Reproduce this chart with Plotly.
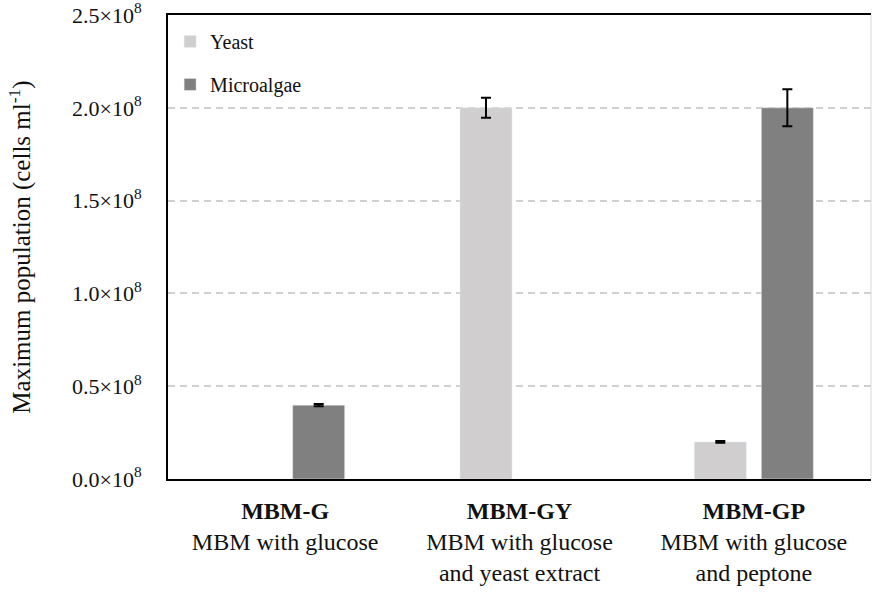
import plotly.graph_objects as go

categories = ["MBM-G", "MBM-GY", "MBM-GP"]
descriptions = ["MBM with glucose", "MBM with glucose<br>and yeast extract", "MBM with glucose<br>and peptone"]
yeast = [None, 2.0e8, 0.20e8]
yeast_err = [0, 0.054e8, 0.005e8]
microalgae = [0.398e8, None, 2.0e8]
microalgae_err = [0.006e8, 0, 0.1e8]
tick_vals = [0, 0.5e8, 1.0e8, 1.5e8, 2.0e8, 2.5e8]
tick_text = ["0.0×10<sup>8</sup>", "0.5×10<sup>8</sup>", "1.0×10<sup>8</sup>",
             "1.5×10<sup>8</sup>", "2.0×10<sup>8</sup>", "2.5×10<sup>8</sup>"]

xlabels = [f"<b>{c}</b><br>{d}" for c, d in zip(categories, descriptions)]
FONT = "Liberation Serif"

fig = go.Figure()
fig.add_trace(go.Bar(
    name="Yeast", x=xlabels, y=yeast, marker_color="#d0cece", legendgroup="y",
    error_y=dict(type="data", array=yeast_err, visible=True, color="black", thickness=2, width=5),
))
fig.add_trace(go.Bar(
    name="Microalgae", x=xlabels, y=microalgae, marker_color="#808080", legendgroup="m",
    error_y=dict(type="data", array=microalgae_err, visible=True, color="black", thickness=2, width=5),
))

fig.update_layout(
    width=872, height=592,
    margin=dict(l=168, r=1, t=15, b=113, autoexpand=False),
    paper_bgcolor="white", plot_bgcolor="white",
    barmode="group", bargap=0.428, bargroupgap=0.224,
    font=dict(family=FONT, color="#111111", size=20),
    showlegend=True,
    legend=dict(x=0.003, y=0.985, xanchor="left", yanchor="top",
                bgcolor="rgba(0,0,0,0)", font=dict(size=20, family=FONT, color="#111111"),
                tracegroupgap=14, traceorder="grouped"),
)
fig.update_xaxes(
    type="category", showline=True, linecolor="black", linewidth=2, mirror=True,
    showgrid=False, ticks="", tickfont=dict(size=24, family=FONT, color="#111111"),
    ticklabelstandoff=9, automargin=False,
)
fig.update_yaxes(
    range=[0, 2.5e8], tickvals=tick_vals, ticktext=tick_text,
    showline=True, linecolor="black", linewidth=2,
    showgrid=True, gridcolor="#d0d0d0", gridwidth=2, griddash="7px,5px",
    ticks="", tickfont=dict(size=22, family=FONT, color="#111111"), ticklabelstandoff=20,
    ticklabeloverflow="allow",
    title=dict(text="Maximum population (cells ml<sup>-1</sup>)",
               font=dict(size=25, family=FONT, color="#111111"), standoff=34),
    zeroline=False, automargin=False,
)
fig.add_shape(type="line", xref="paper", yref="paper", x0=1, x1=1, y0=0, y1=1,
              line=dict(color="#d9d9d9", width=1))

fig.write_html("out.html", config={"displayModeBar": False},
               post_script="document.body.style.margin='0';")
